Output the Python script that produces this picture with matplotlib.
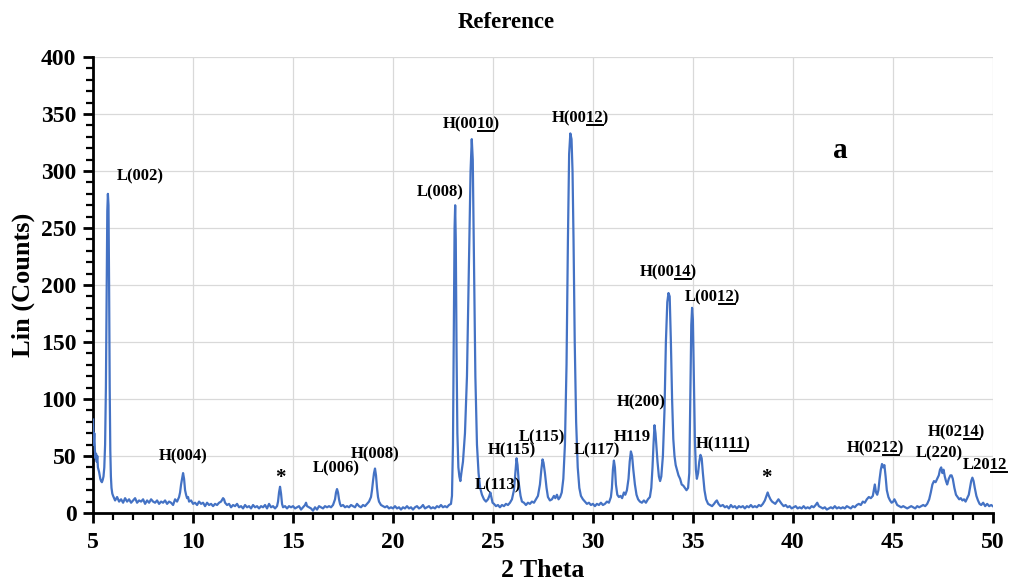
import matplotlib
matplotlib.use("Agg")
import matplotlib.pyplot as plt
from matplotlib.lines import Line2D
from matplotlib.ticker import MultipleLocator
from matplotlib.font_manager import FontProperties

# ---------------- data ----------------
two_theta = [
    5.00, 5.03, 5.06, 5.09, 5.12, 5.15, 5.18, 5.21, 5.24, 5.27, 5.30, 5.33, 5.36, 5.40, 5.44, 5.48,
    5.52, 5.56, 5.60, 5.64, 5.68, 5.71, 5.74, 5.77, 5.80, 5.83, 5.86, 5.89, 5.92, 5.96, 6.00, 6.05,
    6.1, 6.2, 6.3, 6.4, 6.5, 6.6, 6.7, 6.8, 6.9, 7.0, 7.1, 7.2, 7.3, 7.4, 7.5, 7.6, 7.7, 7.8, 7.9,
    8.0, 8.1, 8.2, 8.3, 8.4, 8.5, 8.6, 8.7, 8.8, 8.9, 9.0, 9.1, 9.2,
    9.3, 9.35, 9.4, 9.45, 9.5, 9.55, 9.6, 9.65, 9.7, 9.75, 9.8, 9.9, 10.0,
    10.1, 10.2, 10.3, 10.4, 10.5, 10.6, 10.7, 10.8, 10.9, 11.0, 11.1, 11.2, 11.3, 11.4, 11.5, 11.55,
    11.6, 11.7, 11.8, 11.9, 12.0, 12.1, 12.2, 12.3, 12.4, 12.5, 12.6, 12.7, 12.8, 12.9, 13.0, 13.1,
    13.2, 13.3, 13.4, 13.5, 13.6, 13.7, 13.8, 13.9, 14.0, 14.1, 14.2, 14.25, 14.3, 14.35, 14.4, 14.45,
    14.5, 14.6, 14.7, 14.8, 14.9, 15.0, 15.1, 15.2, 15.3, 15.4, 15.5, 15.6, 15.65, 15.7, 15.8, 15.9,
    16.0, 16.1, 16.2, 16.3, 16.4, 16.5, 16.6, 16.7, 16.8, 16.9, 17.0, 17.1, 17.15, 17.2, 17.25, 17.3,
    17.35, 17.4, 17.5, 17.6, 17.7, 17.8, 17.9, 18.0, 18.1, 18.2, 18.3, 18.4, 18.5, 18.6, 18.7, 18.8,
    18.9, 18.95, 19.0, 19.05, 19.1, 19.15, 19.2, 19.25, 19.3, 19.4, 19.5, 19.6, 19.7, 19.8, 19.9,
    20.0, 20.1, 20.2, 20.3, 20.4, 20.5, 20.6, 20.7, 20.8, 20.9, 21.0, 21.1, 21.2, 21.3, 21.4, 21.5,
    21.6, 21.7, 21.8, 21.9, 22.0, 22.1, 22.2, 22.3, 22.4, 22.5, 22.6, 22.7, 22.8, 22.9, 22.95,
    23.0, 23.04, 23.08, 23.11, 23.14, 23.18, 23.22, 23.27, 23.32, 23.37, 23.42, 23.5, 23.6, 23.7,
    23.8, 23.88, 23.94, 23.99, 24.05, 24.12, 24.2, 24.28, 24.36, 24.45, 24.55, 24.65, 24.75, 24.82,
    24.87, 24.92, 24.98, 25.05, 25.15, 25.25, 25.35, 25.45, 25.55, 25.65, 25.75, 25.85, 25.95, 26.05,
    26.12, 26.18, 26.23, 26.3, 26.38, 26.45, 26.55, 26.65, 26.75, 26.85, 26.95, 27.05, 27.15, 27.25,
    27.35, 27.42, 27.48, 27.53, 27.6, 27.68, 27.75, 27.85, 27.95, 28.05, 28.12, 28.2, 28.28, 28.36,
    28.44, 28.52, 28.6, 28.68, 28.75, 28.81, 28.87, 28.93, 28.98, 29.03, 29.09, 29.16, 29.24, 29.32,
    29.4, 29.5, 29.6, 29.7, 29.8, 29.9, 30.0, 30.1, 30.2, 30.3, 30.4, 30.5, 30.6, 30.7, 30.8, 30.9,
    30.95, 31.0, 31.05, 31.1, 31.15, 31.22, 31.3, 31.38, 31.46, 31.55, 31.62, 31.7, 31.78, 31.84,
    31.9, 31.96, 32.02, 32.1, 32.18, 32.26, 32.35, 32.45, 32.55, 32.65, 32.75, 32.85, 32.92, 32.98,
    33.03, 33.08, 33.13, 33.18, 33.23, 33.3, 33.36, 33.42, 33.5, 33.58, 33.65, 33.72, 33.78, 33.84,
    33.9, 33.96, 34.02, 34.08, 34.14, 34.2, 34.28, 34.36, 34.44, 34.52, 34.6, 34.68, 34.76, 34.82,
    34.87, 34.92, 34.96, 35.0, 35.05, 35.1, 35.15, 35.2, 35.26, 35.32, 35.38, 35.44, 35.5, 35.58,
    35.66, 35.76, 35.86, 35.96, 36.06, 36.14, 36.2, 36.28, 36.38, 36.5, 36.6, 36.7, 36.8, 36.9,
    37.0, 37.1, 37.2, 37.3, 37.4, 37.5, 37.6, 37.7, 37.8, 37.9, 38.0, 38.1, 38.2, 38.3, 38.4, 38.5,
    38.6, 38.68, 38.74, 38.8, 38.88, 38.96, 39.04, 39.12, 39.2, 39.28, 39.36, 39.44, 39.54, 39.64,
    39.74, 39.84, 39.94, 40.04, 40.14, 40.24, 40.34, 40.44, 40.54, 40.64, 40.74, 40.84, 40.94, 41.04,
    41.14, 41.22, 41.3, 41.4, 41.5, 41.6, 41.7, 41.8, 41.9, 42.0, 42.1, 42.2, 42.3, 42.4, 42.5, 42.6,
    42.7, 42.8, 42.9, 43.0, 43.1, 43.2, 43.3, 43.4, 43.5, 43.6, 43.7, 43.8, 43.9, 44.0, 44.05, 44.1,
    44.16, 44.22, 44.28, 44.34, 44.4, 44.46, 44.52, 44.58, 44.64, 44.7, 44.78, 44.86, 44.94, 45.02,
    45.08, 45.14, 45.22, 45.32, 45.42, 45.52, 45.62, 45.72, 45.82, 45.92, 46.02, 46.12, 46.22, 46.32,
    46.42, 46.52, 46.62, 46.72, 46.82, 46.9, 46.98, 47.06, 47.14, 47.22, 47.3, 47.36, 47.42, 47.48,
    47.54, 47.6, 47.66, 47.72, 47.8, 47.88, 47.94, 48.0, 48.08, 48.16, 48.24, 48.32, 48.4, 48.48,
    48.56, 48.64, 48.72, 48.8, 48.86, 48.92, 48.98, 49.04, 49.1, 49.18, 49.26, 49.34, 49.42, 49.52,
    49.62, 49.72, 49.82, 49.92, 50.0,
]
counts = [
    82, 60, 70, 55, 48, 52, 45, 50, 40, 38, 36, 33, 30, 28, 27, 29,
    32, 40, 60, 110, 200, 265, 280, 270, 200, 110, 55, 32, 22, 17, 15, 13,
    11, 14, 10, 12, 9, 13, 10, 12, 9, 11, 13, 9, 11, 10, 12, 8, 11, 9, 12,
    10, 9, 11, 8, 10, 9, 11, 8, 10, 9, 7, 12, 10,
    14, 18, 25, 30, 35, 30, 20, 16, 13, 14, 10, 11, 8,
    9, 7, 10, 8, 9, 6, 9, 7, 8, 6, 8, 7, 9, 10, 13, 12,
    9, 7, 8, 5, 7, 6, 8, 5, 6, 4, 7, 5, 6, 4, 7, 5,
    6, 4, 6, 5, 7, 4, 8, 5, 6, 4, 6, 10, 18, 23, 17, 8,
    5, 6, 4, 6, 5, 6, 4, 5, 6, 3, 5, 7, 9, 6, 5, 4,
    2, 5, 3, 6, 5, 4, 6, 5, 6, 5, 7, 12, 18, 21, 18, 12,
    8, 6, 7, 5, 6, 5, 7, 6, 5, 8, 6, 5, 7, 6, 8, 10,
    14, 20, 28, 35, 39, 33, 22, 14, 10, 7, 6, 5, 6, 4, 5,
    4, 6, 4, 5, 3, 5, 4, 6, 4, 5, 3, 5, 6, 4, 5, 7,
    4, 5, 6, 4, 5, 4, 6, 5, 7, 5, 6, 5, 7, 8, 15,
    60, 160, 250, 270, 240, 140, 70, 40, 32, 28, 35, 45, 70, 120,
    220, 300, 328, 310, 220, 120, 60, 35, 22, 16, 12, 10, 12, 15,
    18, 14, 9, 8, 6, 7, 5, 7, 6, 8, 7, 9, 12, 20,
    35, 48, 42, 25, 15, 10, 9, 7, 9, 8, 10, 9, 12, 15,
    25, 38, 47, 44, 35, 22, 14, 11, 12, 15, 13, 16, 12, 14,
    18, 30, 60, 130, 240, 315, 333, 328, 300, 240, 150, 80, 40, 22,
    15, 12, 10, 8, 9, 7, 8, 6, 8, 7, 9, 7, 8, 10, 9, 14,
    22, 38, 46, 40, 25, 16, 14, 15, 13, 18, 16, 20, 30, 45,
    54, 50, 38, 25, 16, 12, 10, 9, 11, 9, 12, 14, 22, 40,
    60, 77, 70, 58, 45, 32, 28, 32, 50, 90, 150, 185, 193, 190,
    150, 100, 65, 50, 42, 38, 33, 30, 25, 24, 22, 20, 22, 35,
    100, 165, 180, 170, 120, 65, 38, 30, 35, 45, 51, 48, 35, 20,
    12, 8, 7, 6, 8, 10, 11, 8, 6, 7, 5, 6, 4, 7,
    5, 6, 4, 6, 5, 6, 4, 6, 5, 7, 5, 6, 5, 7, 6, 8,
    11, 15, 18, 15, 12, 10, 9, 8, 10, 12, 10, 8, 6, 7,
    5, 6, 4, 5, 6, 4, 5, 4, 6, 4, 5, 4, 6, 5,
    7, 9, 6, 5, 4, 5, 3, 4, 5, 4, 6, 4, 5, 4, 5, 4,
    6, 5, 4, 6, 5, 7, 8, 7, 10, 9, 12, 14, 13, 15, 20, 25,
    18, 16, 20, 30, 38, 43, 40, 42, 32, 20, 14, 11, 9, 10,
    12, 10, 7, 6, 5, 6, 5, 4, 5, 6, 5, 4, 6, 5,
    6, 7, 6, 8, 12, 18, 25, 28, 27, 30, 33, 38, 40, 35,
    38, 32, 28, 25, 30, 33, 33, 30, 22, 16, 14, 12, 13, 11,
    12, 10, 13, 16, 22, 28, 31, 28, 22, 15, 11, 8, 7, 9,
    6, 8, 6, 7, 6,
]

# peak labels: (prefix, underlined part, suffix)
peak_labels = [
    ("L(002)", "", ""), ("H(004)", "", ""), ("*", "", ""), ("L(006)", "", ""),
    ("H(008)", "", ""), ("L(008)", "", ""), ("H(00", "10", ")"), ("L(113)", "", ""),
    ("H(115)", "", ""), ("L(115)", "", ""), ("H(00", "12", ")"), ("L(117)", "", ""),
    ("H119", "", ""), ("H(200)", "", ""), ("H(00", "14", ")"), ("L(00", "12", ")"),
    ("H(11", "11", ")"), ("*", "", ""), ("H(02", "12", ")"), ("L(220)", "", ""),
    ("H(02", "14", ")"), ("L20", "12", ""),
]
label_x = [7.35, 9.5, 14.35, 17.15, 19.1, 22.35, 23.9, 25.25, 25.95, 27.45, 29.35, 30.2,
           31.95, 32.4, 33.75, 36.0, 36.5, 38.7, 44.15, 47.35, 48.2, 49.6]
label_y = [295, 50, 31, 39, 51, 281, 341, 24, 55, 66, 346, 55,
           67, 97, 211, 189, 60, 31, 57, 52, 71, 42]
x_ticks = [5, 10, 15, 20, 25, 30, 35, 40, 45, 50]
y_ticks = [0, 50, 100, 150, 200, 250, 300, 350, 400]

# ---------------- plot ----------------
FONT = "Liberation Serif"
plt.rcParams["font.family"] = [FONT, "DejaVu Serif"]
plt.rcParams["font.weight"] = "bold"

fig = plt.figure(figsize=(10.12, 5.86), dpi=100)
ax = fig.add_axes([0.092, 0.1246, 0.889, 0.778])

ax.plot(two_theta, counts, color="#4472C4", lw=1.6, zorder=3)
ax.set_xlim(5, 50)
ax.set_ylim(0, 400)
ax.set_xticks(x_ticks)
ax.set_yticks(y_ticks)
ax.xaxis.set_minor_locator(MultipleLocator(1))
ax.yaxis.set_minor_locator(MultipleLocator(10))
ax.grid(True, which="major", color="#d9d9d9", lw=0.9, zorder=0)
ax.set_axisbelow(True)
for s in ["top", "right"]:
    ax.spines[s].set_visible(False)
for s in ["left", "bottom"]:
    ax.spines[s].set_linewidth(2.0)
ax.tick_params(axis="both", which="major", direction="out", length=7, width=2,
               labelsize=17, pad=5)
ax.tick_params(axis="x", which="major", pad=7)
ax.tick_params(axis="both", which="minor", direction="out", length=5, width=1.6)
for lab in ax.get_xticklabels() + ax.get_yticklabels():
    lab.set_fontweight("bold")

ax.set_xlabel("2 Theta", fontsize=18.5, fontweight="bold", labelpad=4)
ax.set_ylabel("Lin (Counts)", fontsize=19, fontweight="bold", labelpad=4)
fig.text(0.5, 0.961, "Reference", ha="center", va="center", fontsize=16.5, fontweight="bold")

ax.text(42.35, 318, "a", ha="center", va="center", fontsize=21, fontweight="bold")

fp = FontProperties(family=FONT, weight="bold", size=12)
fp_star = FontProperties(family=FONT, weight="bold", size=15)
texts = []
for (pre, und, suf), lx, ly in zip(peak_labels, label_x, label_y):
    prop = fp_star if pre == "*" else fp
    t = ax.text(lx, ly, pre + und + suf, ha="center", va="center", fontproperties=prop, zorder=4)
    texts.append((t, pre, und))

fig.canvas.draw()
renderer = fig.canvas.get_renderer()


def width_of(s):
    if not s:
        return 0.0
    tt = fig.text(0, 0, s, fontproperties=fp)
    w = tt.get_window_extent(renderer).width
    tt.remove()
    return w


inv = fig.transFigure.inverted()
for t, pre, und in texts:
    if not und:
        continue
    bb = t.get_window_extent(renderer)
    x0 = bb.x0 + width_of(pre) + 0.5
    x1 = x0 + width_of(und)
    yline = bb.y0 + 1.5
    p0 = inv.transform((x0, yline))
    p1 = inv.transform((x1, yline))
    fig.add_artist(Line2D([p0[0], p1[0]], [p0[1], p1[1]], color="black", lw=1.4,
                          transform=fig.transFigure))

fig.savefig("out.png", dpi=100)
